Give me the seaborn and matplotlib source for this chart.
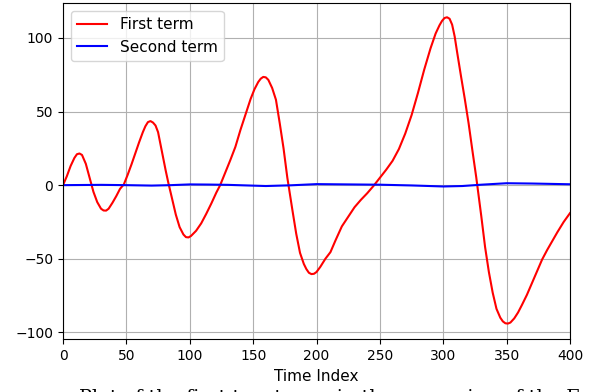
import numpy as np
import pandas as pd
import matplotlib
matplotlib.use("Agg")
import matplotlib.pyplot as plt
import seaborn as sns

# values
time_first = [0, 3, 6, 9, 11, 13, 15, 18, 21, 24, 27, 30, 32, 34, 36, 39, 42, 45, 48,
              51, 54, 57, 60, 63, 65, 67, 69, 71, 73, 75, 78, 81, 83, 86, 89, 92, 95, 97, 99,
              101, 105, 109, 113, 117, 121, 124, 128, 132, 136, 140, 144, 148, 151, 154, 156,
              158, 160, 162, 165, 168, 171, 174, 177, 181, 184, 187, 190, 192, 194, 196, 198,
              200, 203, 207, 211, 215, 220, 225, 230, 235, 240, 245, 250, 255, 260, 265,
              270, 275, 280, 285, 290, 294, 297, 299, 301, 303, 305, 307, 309, 311, 314, 317, 320,
              323, 326, 330, 333, 336, 339, 342, 345, 347, 349, 351, 353, 356, 359, 362, 366,
              370, 374, 378, 382, 386, 390, 395, 400]
first_term = [0, 6, 13, 18.5, 21, 21.5, 20.5, 14.5, 5, -4.5, -11.5, -16, -17.2, -17.3, -16, -12, -7.5, -2.5, 0.5,
              7, 14, 21.5, 29, 36, 40, 42.8, 43.5, 42.5, 40.5, 36, 23, 10, 2, -9, -20, -28.5, -33.5, -35.3, -35.5,
              -34.5, -31, -26, -19.5, -12.5, -5, 0, 8.5, 17, 26, 37.5, 48, 58.5, 65, 70, 72.3,
              73.5, 73.2, 71.5, 66, 58, 42, 25, 5, -17, -33, -46, -53.5, -57, -59.5, -60.4, -60.2,
              -59, -55.5, -50, -45.5, -37.5, -28, -21.5, -15, -10, -5.5, -0.5, 5, 10.5, 16.5, 24.5,
              35, 47.5, 62.5, 78.5, 93, 103, 108.5, 111.5, 113.5, 114, 113, 109, 101, 90, 74, 58.5, 42,
              23.5, 5.5, -21, -42, -59, -73, -84, -90, -92.5, -93.8, -94, -93.3, -90.5, -86.5, -81.5, -74.5,
              -66.5, -58.5, -50.5, -44, -38, -32, -25, -19]

time_second = [0, 15, 30, 50, 70, 85, 100, 115, 130, 145, 160, 180, 200, 225, 250, 275,
               300, 315, 330, 350, 370, 400]
second_term = [0, 0.1, 0.2, 0.0, -0.3, 0.0, 0.5, 0.4, 0.2, -0.2, -0.6, -0.1, 0.7, 0.5, 0.3, -0.2,
               -0.9, -0.6, 0.3, 1.3, 1.1, 0.6]

df1 = pd.DataFrame({"Time Index": time_first, "value": first_term})
df2 = pd.DataFrame({"Time Index": time_second, "value": second_term})

fig, ax = plt.subplots(figsize=(6, 3.92), dpi=100)
fig.subplots_adjust(left=0.105, right=0.95, top=0.992, bottom=0.134)

sns.lineplot(data=df1, x="Time Index", y="value", color="red", label="First term", ax=ax)
sns.lineplot(data=df2, x="Time Index", y="value", color="blue", label="Second term", ax=ax)

ax.set_xlim(0, 400)
ax.set_ylim(-104.8, 123.6)
ax.set_xticks(np.arange(0, 401, 50))
ax.set_yticks([-100, -50, 0, 50, 100])
ax.set_xlabel("Time Index", fontsize=11, labelpad=4)
ax.set_ylabel("")
ax.grid(True)
ax.legend(loc="upper left", fontsize=11)

# caption of the source document, cut off at the bottom edge
fig.text(0.132, 0.007, "Plot of the first two terms in the expansion of the F",
         family="DejaVu Serif", fontsize=13.8, va="top", ha="left")

fig.savefig("out.png", dpi=100)
